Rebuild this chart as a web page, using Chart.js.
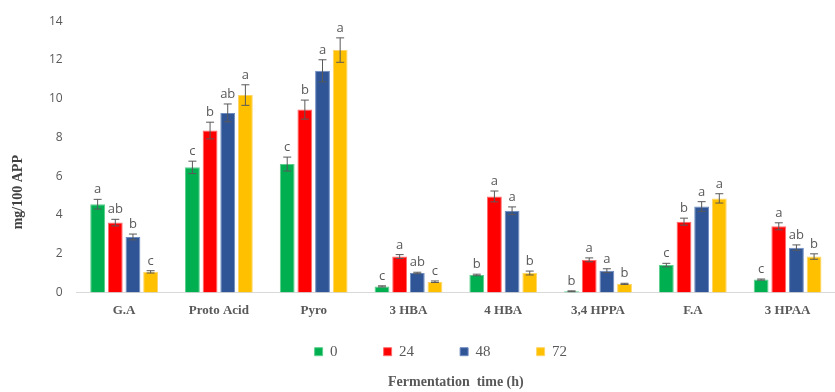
<!DOCTYPE html>
<html>
<head>
<meta charset="utf-8">
<script src="https://cdn.jsdelivr.net/npm/chart.js@4/dist/chart.umd.min.js"></script>
<style>
  html, body { margin: 0; padding: 0; background: #ffffff; }
  #wrap { width: 835px; height: 392px; position: relative; }
</style>
</head>
<body>
<div id="wrap"><canvas id="chart"></canvas></div>
<script>
// Phenolic compounds (mg/100 APP) over fermentation time
const categories = ['G.A', 'Proto Acid', 'Pyro', '3 HBA', '4 HBA', '3,4 HPPA', 'F.A', '3 HPAA'];
const hours = ['0', '24', '48', '72'];

const values0h  = [4.56, 6.46, 6.63, 0.32, 0.91, 0.07, 1.42, 0.67];
const values24h = [3.61, 8.36, 9.44, 1.86, 4.96, 1.69, 3.66, 3.42];
const values48h = [2.87, 9.27, 11.44, 1.01, 4.22, 1.13, 4.44, 2.32];
const values72h = [1.07, 10.19, 12.51, 0.56, 1.01, 0.45, 4.86, 1.86];

const errors0h  = [0.25, 0.32, 0.36, 0.03, 0.04, 0.02, 0.09, 0.03];
const errors24h = [0.17, 0.43, 0.49, 0.10, 0.28, 0.10, 0.18, 0.18];
const errors48h = [0.15, 0.46, 0.57, 0.04, 0.20, 0.10, 0.25, 0.14];
const errors72h = [0.06, 0.53, 0.63, 0.04, 0.10, 0.03, 0.24, 0.14];

const letters0h  = ['a', 'c', 'c', 'c', 'b', 'b', 'c', 'c'];
const letters24h = ['ab', 'b', 'b', 'a', 'a', 'a', 'b', 'a'];
const letters48h = ['b', 'ab', 'a', 'ab', 'a', 'a', 'a', 'ab'];
const letters72h = ['c', 'a', 'a', 'c', 'b', 'b', 'a', 'b'];

const yTicks = [0, 2, 4, 6, 8, 10, 12, 14];

const seriesValues = [values0h, values24h, values48h, values72h];
const seriesErrors = [errors0h, errors24h, errors48h, errors72h];
const seriesLetters = [letters0h, letters24h, letters48h, letters72h];
const fills = ['#00B050', '#FF0000', '#2F5597', '#FFC000'];
const edges = ['#5ccf8c', '#ff6b6b', '#6f8cc0', '#ffd666'];

// Error bars and significance letters drawn on top of each bar
const errorBarPlugin = {
  id: 'errorBars',
  afterDatasetsDraw(chart) {
    const ctx = chart.ctx;
    const y = chart.scales.y;
    ctx.save();
    chart.data.datasets.forEach((ds, di) => {
      const meta = chart.getDatasetMeta(di);
      meta.data.forEach((bar, i) => {
        const v = ds.data[i];
        const e = ds.errors[i];
        const yTop = y.getPixelForValue(v + e);
        const yBot = y.getPixelForValue(v - e);
        const x = bar.x;
        ctx.strokeStyle = '#595959';
        ctx.lineWidth = 1;
        ctx.beginPath();
        ctx.moveTo(x, yTop); ctx.lineTo(x, yBot);
        ctx.moveTo(x - 4, yTop); ctx.lineTo(x + 4, yTop);
        ctx.moveTo(x - 4, yBot); ctx.lineTo(x + 4, yBot);
        ctx.stroke();
        ctx.fillStyle = '#595959';
        ctx.font = '13px "Open Sans", sans-serif';
        ctx.textAlign = 'center';
        ctx.textBaseline = 'alphabetic';
        ctx.fillText(ds.letters[i], x, yTop - 6);
      });
    });
    ctx.restore();
  }
};

// Rotated y-axis title
const yTitlePlugin = {
  id: 'yTitle',
  afterDraw(chart) {
    const ctx = chart.ctx;
    const a = chart.chartArea;
    ctx.save();
    ctx.translate(18, a.top + (a.bottom - a.top) * 0.63);
    ctx.rotate(-Math.PI / 2);
    ctx.fillStyle = '#404040';
    ctx.font = 'bold 14px "Liberation Serif", serif';
    ctx.textAlign = 'center';
    ctx.textBaseline = 'middle';
    ctx.fillText('mg/100 APP', 0, 0);
    ctx.restore();
  }
};

new Chart(document.getElementById('chart'), {
  type: 'bar',
  data: {
    labels: categories,
    datasets: hours.map((h, k) => ({
      label: h,
      data: seriesValues[k],
      errors: seriesErrors[k],
      letters: seriesLetters[k],
      backgroundColor: fills[k],
      borderColor: edges[k],
      borderWidth: 1,
      categoryPercentage: 0.745,
      barPercentage: 0.84
    }))
  },
  options: {
    responsive: true,
    maintainAspectRatio: false,
    animation: false,
    layout: { padding: { left: 35, top: 19, right: 0, bottom: 0 } },
    scales: {
      x: {
        grid: { display: false, drawTicks: false },
        border: { display: true, color: '#d9d9d9', width: 1 },
        ticks: {
          padding: 10,
          color: '#595959',
          font: { family: '"Liberation Serif", serif', size: 13, weight: 'bold' }
        }
      },
      y: {
        min: 0,
        max: 14,
        grid: { display: false, drawTicks: false },
        border: { display: false },
        afterBuildTicks(scale) { scale.ticks = yTicks.map(v => ({ value: v })); },
        ticks: {
          padding: 14,
          color: '#595959',
          font: { family: '"Open Sans", sans-serif', size: 12 }
        }
      }
    },
    plugins: {
      legend: {
        position: 'bottom',
        fullSize: false,
        labels: {
          boxWidth: 8,
          boxHeight: 8,
          padding: 16,
          color: '#595959',
          font: { family: '"Liberation Serif", serif', size: 15 },
          generateLabels(chart) {
            const items = Chart.defaults.plugins.legend.labels.generateLabels(chart);
            items.forEach(it => { it.text = it.text + '        '; });
            return items;
          }
        }
      },
      title: {
        display: true,
        position: 'bottom',
        fullSize: false,
        text: 'Fermentation  time (h)',
        color: '#595959',
        font: { family: '"Liberation Serif", serif', size: 14, weight: 'bold' },
        padding: { top: 5, bottom: 1 }
      },
      tooltip: { enabled: false }
    }
  },
  plugins: [errorBarPlugin, yTitlePlugin]
});
</script>
</body>
</html>
